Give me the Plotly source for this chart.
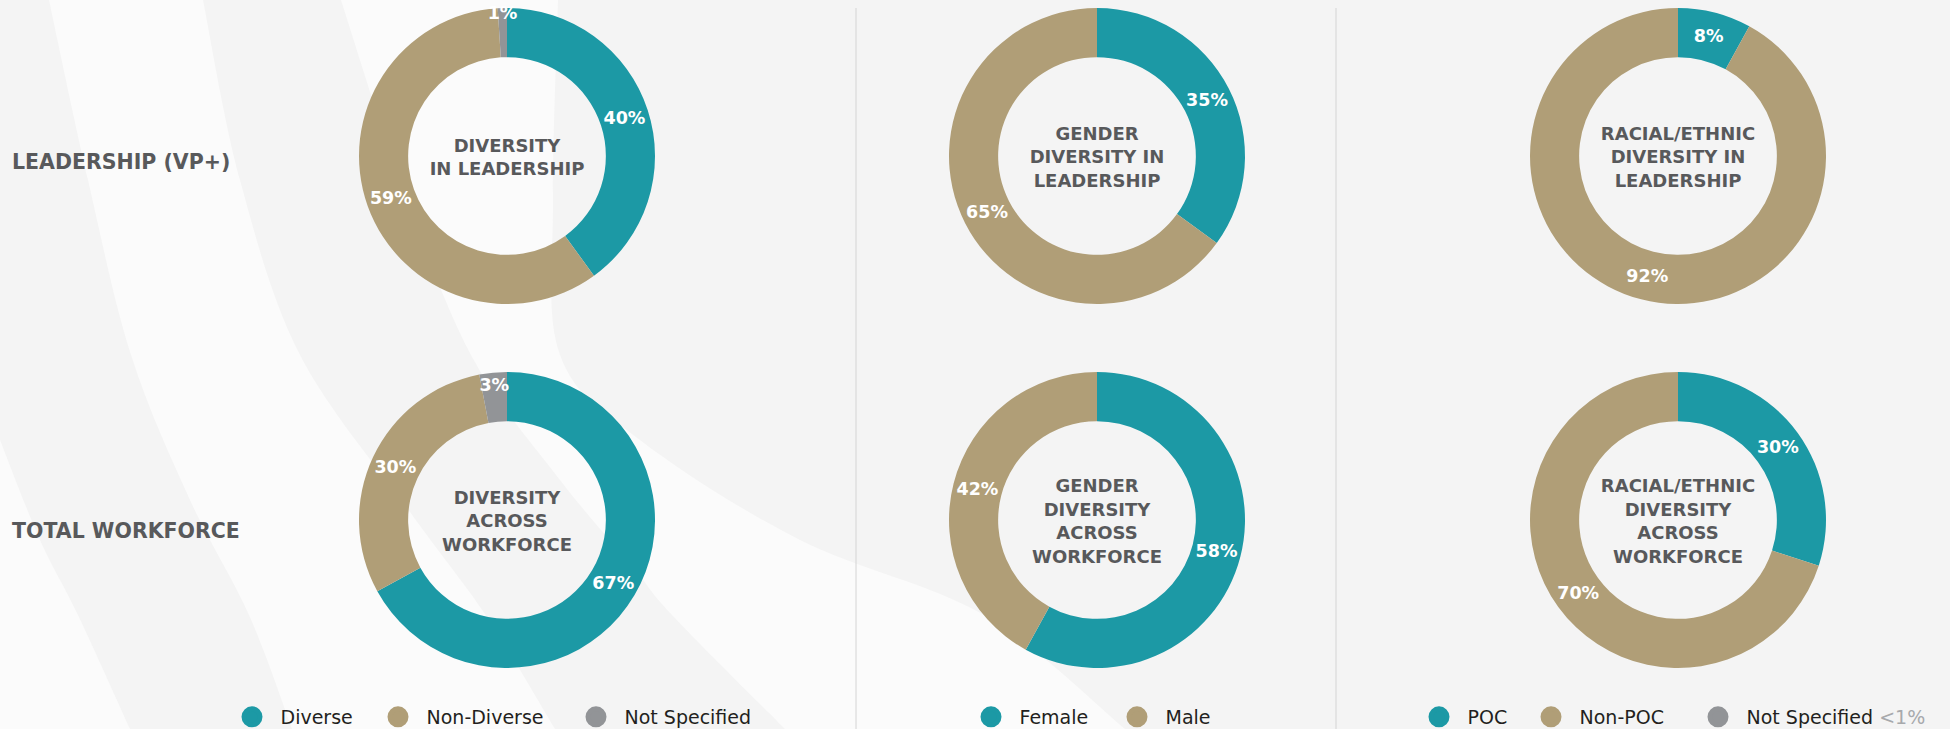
import plotly.graph_objects as go

W, H = 1950, 729

# ---------------- data ----------------
row_labels = ["LEADERSHIP (VP+)", "TOTAL WORKFORCE"]

diversity_labels = ["Diverse", "Non-Diverse", "Not Specified"]
diversity_leadership = [40, 59, 1]
diversity_workforce = [67, 30, 3]

gender_labels = ["Female", "Male"]
gender_leadership = [35, 65]
gender_workforce = [58, 42]

race_labels = ["POC", "Non-POC"]
race_leadership = [8, 92]
race_workforce = [30, 70]

center_titles_leadership = [
    "DIVERSITY<br>IN LEADERSHIP",
    "GENDER<br>DIVERSITY IN<br>LEADERSHIP",
    "RACIAL/ETHNIC<br>DIVERSITY IN<br>LEADERSHIP",
]
center_titles_workforce = [
    "DIVERSITY<br>ACROSS<br>WORKFORCE",
    "GENDER<br>DIVERSITY<br>ACROSS<br>WORKFORCE",
    "RACIAL/ETHNIC<br>DIVERSITY<br>ACROSS<br>WORKFORCE",
]

legend_diversity = ["Diverse", "Non-Diverse", "Not Specified"]
legend_gender = ["Female", "Male"]
legend_race = ["POC", "Non-POC", "Not Specified"]
legend_note = "<1%"

# ---------------- style ----------------
TEAL = "#1c99a5"
TAN = "#b09e77"
GRAY = "#929497"
DARK = "#58595b"
BG = "#f4f4f4"
BAND = "#fbfbfb"
FONT = "DejaVu Sans"

col_cx = [507, 1097, 1678]
row_cy = [156, 520]
R = 148
HOLE = 0.668

fig = go.Figure()

charts = [
    (0, 0, diversity_labels, diversity_leadership, [TEAL, TAN, GRAY], center_titles_leadership[0]),
    (0, 1, gender_labels, gender_leadership, [TEAL, TAN], center_titles_leadership[1]),
    (0, 2, race_labels, race_leadership, [TEAL, TAN], center_titles_leadership[2]),
    (1, 0, diversity_labels, diversity_workforce, [TEAL, TAN, GRAY], center_titles_workforce[0]),
    (1, 1, gender_labels, gender_workforce, [TEAL, TAN], center_titles_workforce[1]),
    (1, 2, race_labels, race_workforce, [TEAL, TAN], center_titles_workforce[2]),
]

for r, c, labels, values, colors, title in charts:
    cx, cy = col_cx[c], row_cy[r]
    fig.add_trace(go.Pie(
        labels=labels, values=values, hole=HOLE, sort=False,
        direction="clockwise", rotation=0,
        marker=dict(colors=colors, line=dict(width=0)),
        texttemplate="%{value}%", textposition="inside",
        insidetextorientation="horizontal",
        textfont=dict(family=FONT, size=17.5, color="white", weight="bold"),
        title=dict(text=title, position="middle center",
                   font=dict(family=FONT, size=18, color=DARK, weight="bold")),
        domain=dict(x=[(cx - R) / W, (cx + R) / W],
                    y=[1 - (cy + R) / H, 1 - (cy - R) / H]),
        showlegend=False, hoverinfo="label+percent",
    ))

# ---------------- legends (one per item) ----------------
legend_centers = [252, 398, 596, 991, 1137, 1439, 1551, 1718]
all_legend_names = legend_diversity + legend_gender + legend_race
all_legend_colors = [TEAL, TAN, GRAY, TEAL, TAN, TEAL, TAN, GRAY]
layout_legends = {}
for i, (name, col, lx) in enumerate(zip(all_legend_names, all_legend_colors, legend_centers)):
    key = "legend" if i == 0 else f"legend{i + 1}"
    disp = name
    if i == len(all_legend_names) - 1:
        disp = name + " <span style='color:#a7a9ac'>" + legend_note.replace("<", "&lt;") + "</span>"
    fig.add_trace(go.Scatter(
        x=[None], y=[None], mode="markers", name=disp, legend=key,
        marker=dict(size=16, color=col, line=dict(width=5, color=col)),
        showlegend=True, hoverinfo="skip",
    ))
    layout_legends[key] = dict(
        x=(lx - 28.5) / W, xanchor="left", y=1 - 717 / H, yanchor="middle",
        orientation="h", bgcolor="rgba(0,0,0,0)", borderwidth=0,
        itemwidth=47, font=dict(family=FONT, size=19, color="#231f20"),
    )

# ---------------- background bands ----------------
def px(p):
    return (p[0] / W, 1 - p[1] / H)

def smooth(points):
    segs = []
    n = len(points)
    for i in range(n - 1):
        p0 = points[i - 1] if i > 0 else points[i]
        p1 = points[i]
        p2 = points[i + 1]
        p3 = points[i + 2] if i + 2 < n else points[i + 1]
        c1 = (p1[0] + (p2[0] - p0[0]) / 6, p1[1] + (p2[1] - p0[1]) / 6)
        c2 = (p2[0] - (p3[0] - p1[0]) / 6, p2[1] - (p3[1] - p1[1]) / 6)
        a, b, d = px(c1), px(c2), px(p2)
        segs.append(f"C {a[0]:.5f},{a[1]:.5f} {b[0]:.5f},{b[1]:.5f} {d[0]:.5f},{d[1]:.5f}")
    return " ".join(segs)

def band(left, right):
    s = px(left[0])
    path = f"M {s[0]:.5f},{s[1]:.5f} " + smooth(left)
    rr = list(reversed(right))
    e = px(rr[0])
    path += f" L {e[0]:.5f},{e[1]:.5f} " + smooth(rr) + " Z"
    return path

bands = [
    band([(0, 440), (40, 540), (78, 615), (130, 729)], [(0, 440), (0, 729)]),
    band([(49, 0), (88, 180), (131, 355), (190, 500), (249, 615), (292, 729)],
         [(203, 0), (240, 180), (300, 355), (410, 512), (487, 617), (555, 729)]),
    band([(341, 0), (400, 180), (471, 355), (560, 480), (633, 567), (672, 615), (785, 729)],
         [(558, 0), (553, 200), (560, 355), (640, 440), (800, 540), (984, 615), (1125, 729)]),
]

shapes = []
for p in bands:
    shapes.append(dict(type="path", path=p, xref="paper", yref="paper",
                       fillcolor=BAND, line=dict(width=0), layer="below"))
for xline in [856, 1336]:
    shapes.append(dict(type="line", xref="paper", yref="paper",
                       x0=xline / W, x1=xline / W, y0=0, y1=1 - 8 / H,
                       line=dict(color="#d4d4d4", width=1), layer="below"))

annotations = []
for lab, yy in zip(row_labels, [162, 531]):
    annotations.append(dict(text=lab, x=10 / W, y=1 - yy / H, xref="paper", yref="paper",
                            xanchor="left", yanchor="middle", showarrow=False,
                            font=dict(family=FONT, size=20.5, color=DARK, weight="bold")))

fig.update_layout(
    width=W, height=H, margin=dict(l=0, r=0, t=0, b=0, autoexpand=False),
    paper_bgcolor=BG, plot_bgcolor="rgba(0,0,0,0)",
    xaxis=dict(visible=False), yaxis=dict(visible=False),
    shapes=shapes, annotations=annotations,
    uniformtext=dict(minsize=17.5, mode="show"),
    **layout_legends,
)

fig.write_html(
    "out.html", config={"displayModeBar": False},
    post_script=("document.body.style.margin='0';"
                 "document.body.style.background='#f4f4f4';"
                 "document.documentElement.style.overflow='hidden';"
                 "document.body.style.overflow='hidden';"),
)
